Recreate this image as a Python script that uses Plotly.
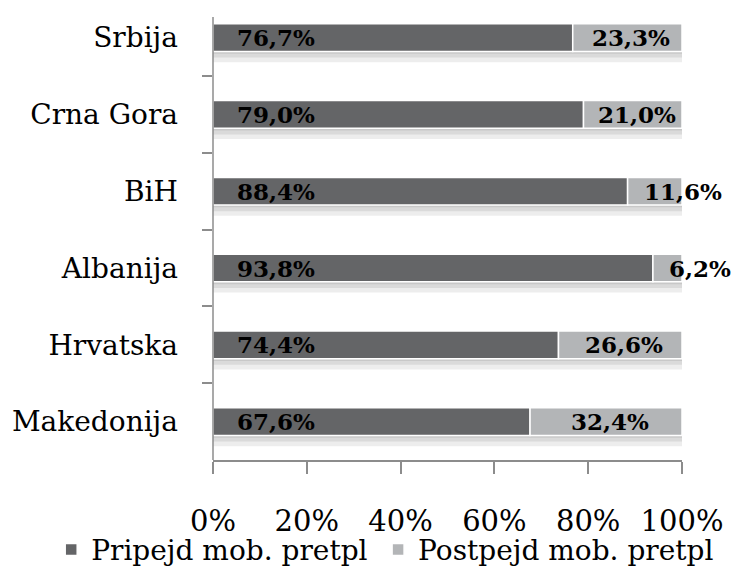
import plotly.graph_objects as go

categories = ["Srbija", "Crna Gora", "BiH", "Albanija", "Hrvatska", "Makedonija"]
prepaid = [76.7, 79.0, 88.4, 93.8, 74.4, 67.6]
postpaid = [23.3, 21.0, 11.6, 6.2, 26.6, 32.4]
series_names = ["Pripejd mob. pretpl", "Postpejd mob. pretpl"]
tick_vals = [0, 20, 40, 60, 80, 100]
tick_text = ["0%", "20%", "40%", "60%", "80%", "100%"]

DARK = "#646567"
LIGHT = "#b3b5b7"
FONT = "DejaVu Serif"
AXIS = "#8c8c8c"

def fmt(v):
    return f"{v:.1f}%".replace(".", ",")

totals = [a + b for a, b in zip(prepaid, postpaid)]
pre_n = [100 * a / t for a, t in zip(prepaid, totals)]
post_n = [100 * b / t for b, t in zip(postpaid, totals)]

fig = go.Figure()

# soft shadow under each bar
for off, w, a in [(0.12, 0.20, 0.07), (0.12, 0.14, 0.08), (0.12, 0.09, 0.08)]:
    fig.add_trace(go.Bar(
        y=categories, x=[100.6] * len(categories), base=[0] * len(categories),
        orientation="h", width=w, offset=off,
        marker=dict(color=f"rgba(0,0,0,{a})", line=dict(width=0)),
        showlegend=False, hoverinfo="skip"))

fig.add_trace(go.Bar(
    y=categories, x=pre_n, base=[0] * len(categories), orientation="h",
    name=series_names[0], width=0.36, legend="legend",
    marker=dict(color=DARK, line=dict(color="white", width=1.5))))
fig.add_trace(go.Bar(
    y=categories, x=post_n, base=pre_n, orientation="h",
    name=series_names[1], width=0.36, legend="legend2",
    marker=dict(color=LIGHT, line=dict(color="white", width=1.5))))

lab_font = dict(family=FONT, size=23, color="black", weight="bold")
annotations = []
for c, p, q, pv, qv in zip(categories, pre_n, post_n, prepaid, postpaid):
    annotations.append(dict(
        x=0, y=c, xref="x", yref="y", text=fmt(pv), showarrow=False,
        xanchor="left", xshift=22, font=lab_font))
    if q < 15:
        annotations.append(dict(
            x=p, y=c, xref="x", yref="y", text=fmt(qv), showarrow=False,
            xanchor="left", xshift=14, font=lab_font))
    else:
        annotations.append(dict(
            x=p + q / 2, y=c, xref="x", yref="y", text=fmt(qv), showarrow=False,
            xanchor="center", xshift=4, font=lab_font))

leg_common = dict(orientation="h", y=-0.195, xanchor="left", yanchor="middle",
                  font=dict(family=FONT, size=28, color="black"),
                  bgcolor="rgba(0,0,0,0)")

fig.update_layout(
    width=736, height=570,
    barmode="overlay",
    margin=dict(l=213, r=54, t=0, b=110, autoexpand=False),
    paper_bgcolor="white", plot_bgcolor="white",
    font=dict(family=FONT, size=27, color="black"),
    showlegend=True,
    legend=dict(x=-0.345, **leg_common),
    legend2=dict(x=0.352, **leg_common),
    annotations=annotations,
    shapes=[dict(type="line", xref="paper", yref="paper", x0=0, x1=0,
                 y0=0, y1=0.963, line=dict(color=AXIS, width=1.5))],
)
fig.update_xaxes(range=[0, 100], tickvals=tick_vals, ticktext=tick_text,
                 showgrid=False, zeroline=False, showline=True,
                 linecolor=AXIS, linewidth=1.5, automargin=False,
                 ticks="outside", ticklen=12, tickcolor=AXIS, tickwidth=1.5,
                 ticklabelstandoff=22, tickfont=dict(size=29))
fig.update_yaxes(categoryorder="array", categoryarray=categories,
                 range=[5.5, -0.49], showgrid=False, zeroline=False,
                 showline=False, automargin=False,
                 ticks="outside", ticklen=10, tickcolor=AXIS, tickwidth=1.5,
                 tickson="boundaries", ticklabelstandoff=34,
                 tickfont=dict(size=28))

fig.write_html("out.html", config={"displayModeBar": False},
               post_script="document.body.style.margin='0';")
